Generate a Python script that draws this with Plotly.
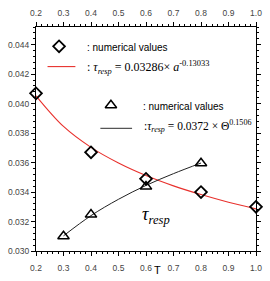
import plotly.graph_objects as go

# data
a_pts = [0.2, 0.4, 0.6, 0.8, 1.0]
tau_pts = [0.0407, 0.0367, 0.0349, 0.0340, 0.0330]
a_fit = [0.2, 0.3, 0.4, 0.5, 0.6, 0.7, 0.8, 0.9, 1.0]
tau_fit = [0.04053, 0.03845, 0.03703, 0.03597, 0.03512, 0.03442, 0.03383, 0.03331, 0.03286]
th_pts = [0.3, 0.4, 0.6, 0.8]
th_tau = [0.0310, 0.03247, 0.03437, 0.03595]
th_fit = [0.3, 0.4, 0.5, 0.6, 0.7, 0.8]
th_fit_tau = [0.03103, 0.03240, 0.03351, 0.03445, 0.03525, 0.03597]
x_ticks = [0.2, 0.3, 0.4, 0.5, 0.6, 0.7, 0.8, 0.9, 1.0]
x_labels = ["0.2", "0.3", "0.4", "0.5", "0.6", "0.7", "0.8", "0.9", "1.0"]
y_ticks = [0.030, 0.032, 0.034, 0.036, 0.038, 0.040, 0.042, 0.044]
y_labels = ["0.030", "0.032", "0.034", "0.036", "0.038", "0.040", "0.042", "0.044"]

SANS = "Liberation Sans, Arial"
SERIF = "Liberation Serif, Times New Roman"

fig = go.Figure()
fig.add_trace(go.Scatter(x=a_fit, y=tau_fit, mode="lines", line=dict(color="#e8302c", width=1.1, shape="spline"), showlegend=False))
fig.add_trace(go.Scatter(x=th_fit, y=th_fit_tau, mode="lines", line=dict(color="#222222", width=1, shape="spline"), showlegend=False))
fig.add_trace(go.Scatter(x=a_pts, y=tau_pts, mode="markers", cliponaxis=False,
                         marker=dict(symbol="diamond-open", size=9, color="black", line=dict(width=1.8)), showlegend=False))
fig.add_trace(go.Scatter(x=th_pts, y=th_tau, mode="markers", cliponaxis=False,
                         marker=dict(symbol="triangle-up-open", size=10, color="black", line=dict(width=1.5)), showlegend=False))
# invisible trace to create top axis
fig.add_trace(go.Scatter(x=[0.2, 1.0], y=[0.03, 0.03], xaxis="x2", mode="markers", marker=dict(opacity=0), showlegend=False, hoverinfo="skip"))

axis_common = dict(showline=True, linecolor="black", linewidth=1, ticks="outside", ticklen=4, tickwidth=1,
                   tickcolor="black", showgrid=False, zeroline=False,
                   tickfont=dict(family=SANS, size=8.5, color="#444444"))

fig.update_layout(
    width=270, height=281,
    margin=dict(l=33, r=8, t=25, b=24),
    paper_bgcolor="white", plot_bgcolor="white",
    xaxis=dict(range=[0.2, 1.0], tickvals=x_ticks, ticktext=x_labels, ticklabelstandoff=5,
               minor=dict(dtick=0.02, ticklen=2, ticks="outside", tickcolor="black"), **axis_common),
    xaxis2=dict(range=[0.2, 1.0], tickvals=x_ticks, ticktext=x_labels, overlaying="x", side="top",
                ticklabelstandoff=3,
                minor=dict(dtick=0.02, ticklen=2, ticks="outside", tickcolor="black"), **axis_common),
    yaxis=dict(range=[0.030, 0.0452], tickvals=y_ticks, ticktext=y_labels, mirror="ticks",
               minor=dict(dtick=0.0004, ticklen=2, ticks="outside", tickcolor="black"), **axis_common),
)

def ann(x, y, text, size=8, family=SANS, color="black", xanchor="left", yanchor="middle"):
    fig.add_annotation(xref="paper", yref="paper", x=x, y=y, text=text, showarrow=False,
                       font=dict(family=family, size=size, color=color), xanchor=xanchor, yanchor=yanchor)

pw, ph = 229.0, 232.0
def px(xp): return (xp - 33) / pw
def py(yp): return (257 - yp) / ph

# legend symbols
fig.add_shape(type="line", xref="paper", yref="paper", x0=px(45), x1=px(74), y0=py(66), y1=py(66),
              line=dict(color="#e8302c", width=1.1))
fig.add_shape(type="line", xref="paper", yref="paper", x0=px(100), x1=px(133), y0=py(130), y1=py(130),
              line=dict(color="#555555", width=1.2))
fig.add_trace(go.Scatter(x=[px(57)], y=[py(45)], xaxis="x3", yaxis="y3", mode="markers",
                         marker=dict(symbol="diamond-open", size=9, color="black", line=dict(width=1.8)), showlegend=False))
fig.add_trace(go.Scatter(x=[px(111)], y=[py(106)], xaxis="x3", yaxis="y3", mode="markers",
                         marker=dict(symbol="triangle-up-open", size=10, color="black", line=dict(width=1.5)), showlegend=False))
fig.update_layout(xaxis3=dict(range=[0, 1], overlaying="x", visible=False),
                  yaxis3=dict(range=[0, 1], overlaying="y", visible=False))

ann(px(84), py(46), ": numerical values", size=10)
ann(px(84), py(67), ": <i>τ<sub>resp</sub></i> = 0.03286× <i>a</i><sup>-0.13033</sup>", size=12, family=SERIF)
ann(px(142), py(107), ": numerical values", size=10)
ann(px(143), py(128), ":<i>τ<sub>resp</sub></i> = 0.0372 × Θ<sup>0.1506</sup>", size=11.5, family=SERIF)
ann(px(141), py(220), "<i>τ<sub>resp</sub></i>", size=18, family=SERIF)
ann(px(159), py(277), "T", size=11, family=SANS, xanchor="center", yanchor="middle")

fig.write_html("out.html")
